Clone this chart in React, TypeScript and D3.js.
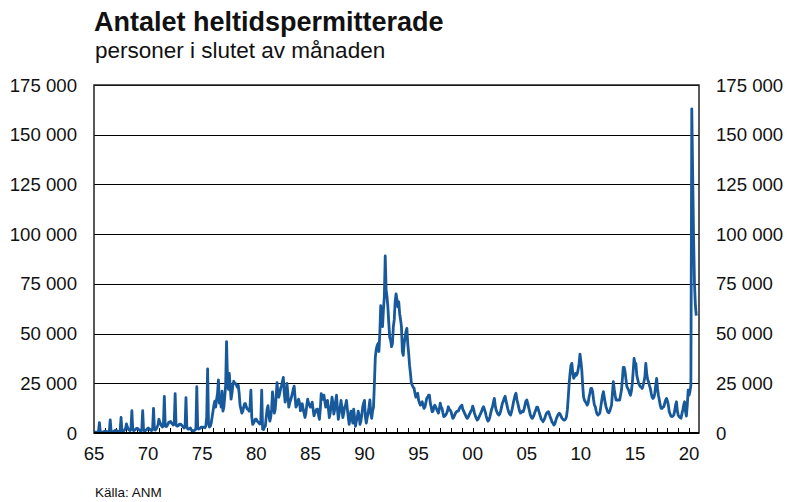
import { useEffect, useRef } from 'react';
import * as d3 from 'd3';

// monthly values, thousands of persons, jan..dec
const perm1965to1974 = [
  0.5, 0.4, 0.4, 0.4, 0.5, 0.8, 5.2, 0.6, 0.4, 0.4, 0.5, 0.7,
  0.9, 0.8, 0.7, 0.6, 0.5, 1.0, 6.6, 0.8, 0.6, 0.7, 0.9, 1.2,
  1.4, 1.2, 1.0, 0.8, 0.7, 1.2, 7.8, 1.0, 0.8, 1.1, 1.6, 2.3,
  4.6, 3.0, 2.0, 1.5, 1.2, 2.0, 11.2, 1.6, 1.2, 1.4, 1.8, 2.2,
  2.4, 2.0, 1.6, 1.2, 1.0, 1.8, 11.2, 1.3, 1.0, 1.2, 1.5, 2.0,
  2.5, 2.2, 1.8, 1.4, 1.2, 2.0, 12.4, 1.8, 1.5, 2.0, 3.0, 4.0,
  6.9, 5.5, 4.5, 3.5, 3.0, 4.0, 18.4, 3.5, 3.2, 3.5, 4.5, 5.5,
  5.5, 5.8, 5.0, 4.5, 4.0, 5.0, 19.8, 4.0, 3.5, 3.5, 4.0, 4.5,
  4.5, 4.0, 3.5, 3.0, 2.5, 3.0, 17.8, 3.0, 2.0, 2.0, 2.2, 2.5,
  1.5, 1.2, 1.0, 1.2, 1.5, 2.0, 23.3, 2.5, 2.0, 2.2, 2.5, 3.0,
];

const perm1975to1984 = [
  3.0, 3.0, 2.8, 2.6, 3.5, 8.0, 32.2, 5.0, 3.0, 3.5, 5.0, 8.0,
  11, 14, 16, 13, 17, 20, 26.7, 15, 18, 13, 21, 11,
  13, 18, 24, 46, 28.4, 22, 30, 24, 17, 20, 24, 26,
  25, 25, 24, 23, 24, 20, 14, 12, 10, 11, 13, 14.7,
  14.7, 13, 12, 12, 11, 13, 21.6, 8, 4.3, 5, 6, 7,
  7, 6, 5.5, 5, 4.5, 6, 21.6, 2, 1.7, 3, 3.4, 8,
  12, 13.8, 9, 6, 8, 12, 20.7, 15, 10, 12, 18, 25.3,
  20, 18, 20, 22.4, 24, 26, 28, 20, 15.5, 18, 25, 20,
  13, 15, 16.4, 18, 20, 22, 23.6, 18, 13, 14, 16, 17,
  15, 11.2, 12, 14.7, 12, 10, 7.8, 10, 14, 17, 15, 14,
];

const perm1985to1994 = [
  13, 14, 15.5, 12, 8.6, 10, 11, 12, 12, 9, 6.9, 12,
  19.8, 18, 17, 19, 16, 13, 15, 16.4, 12, 7.8, 10, 13.8,
  18, 15, 9.5, 12, 16, 19, 12, 6.9, 10, 13, 16.4, 12,
  7.8, 10, 13, 14, 16.4, 12, 8, 4.3, 8, 11, 8, 5,
  12, 8, 3.4, 6, 8, 11, 9, 4.3, 6, 9, 13, 15,
  16.4, 8, 5, 7.8, 10, 13, 16.6, 10, 7.4, 11, 13, 25,
  38, 42, 44, 45, 41, 50, 64, 55, 53.5, 62, 68.5, 89,
  72, 68.5, 63, 55, 48, 46.7, 43.4, 45, 53.5, 57, 66, 70,
  67, 63.5, 66, 60, 57, 53.5, 41, 39, 45, 48, 51, 52.6,
  45, 40, 34, 30, 25, 24, 23, 22.5, 20, 18, 19, 20,
];

const perm1995to2004 = [
  16.6, 15, 14, 15, 15.7, 14, 12.4, 13, 15, 17.4, 18, 19,
  19, 15, 13, 10.7, 11, 13, 14, 13, 12, 11, 10, 12,
  15, 13, 12.4, 10, 8.2, 8.5, 9, 9.9, 11, 13.2, 12, 11.5,
  10.7, 9, 7.4, 8, 9, 10, 10.7, 11, 11, 12, 13, 13.5,
  14, 12, 11, 10, 9, 8, 7.4, 8, 9, 10, 11, 11.6,
  13.5, 12, 10, 8.5, 7.5, 6.5, 7, 8, 9, 10, 11, 12.5,
  13.2, 12, 10.5, 8.5, 7, 6, 6.5, 8, 10, 12, 13.2, 15.5,
  17.4, 14, 11.6, 10.5, 9.5, 9, 9.5, 11, 13, 15, 16, 17.5,
  18.5, 16, 14, 12, 10.5, 9.5, 9, 10.5, 12.5, 15, 17, 19,
  20, 17, 15, 13, 11, 10, 10.5, 11, 10.7, 12, 14, 16,
];

const perm2005to2014 = [
  16.6, 15, 13, 11, 9, 8, 7.4, 8, 9, 10.5, 11.5, 13,
  13, 11.5, 10, 8.5, 7, 6.5, 5.7, 6.5, 7.5, 9, 10, 10.5,
  10.7, 9.5, 8, 7, 5.5, 5, 4, 4.5, 6, 7.5, 8.5, 9.5,
  10, 9.5, 8.5, 7.5, 7, 6.5, 6.5, 7, 8.2, 11.6, 18, 25,
  30, 34, 35, 30, 27.5, 28.5, 30, 29, 30, 32, 35, 39.7,
  36, 31.7, 24, 18, 16.5, 15.7, 15, 14, 15, 18, 20, 22.4,
  22.4, 20.8, 17, 14, 13.2, 11, 9.5, 9, 9.5, 10, 13, 16,
  19, 20.8, 18, 15, 13, 11.6, 10.5, 10.2, 11, 12.5, 14, 20,
  25.8, 22, 19, 16.6, 16.6, 16.6, 16.6, 16.6, 19, 21.6, 27, 33,
  33, 30.8, 27, 23.3, 22.5, 21.6, 20, 19, 21, 25, 31, 37.5,
];

const perm2015to2020 = [
  35, 35, 29, 27, 25, 24, 23.3, 23, 22.4, 24, 26, 28.3,
  35, 30, 27, 25.8, 24, 22.4, 20, 18, 17.4, 18, 20, 24,
  27.5, 22.4, 19, 16.6, 14, 12.4, 12.4, 13, 13.2, 15, 16.5, 17.4,
  16, 14, 10.7, 9.5, 8.5, 8.2, 8.5, 9, 11, 14, 15.7, 11,
  9, 8.2, 7.8, 7.4, 9.5, 11.6, 14, 15.7, 11, 8.5, 14, 21.6,
  19, 21, 24, 163, 130, 98, 75, 64, 59,
];

const startYear = 1965;
const yTicks = [0, 25000, 50000, 75000, 100000, 125000, 150000, 175000];
const xLabelYears = [1965, 1970, 1975, 1980, 1985, 1990, 1995, 2000, 2005, 2010, 2015, 2020];

const title = 'Antalet heltidspermitterade';
const subtitle = 'personer i slutet av månaden';
const source = 'Källa: ANM';

const FONT = '"Liberation Sans", Arial, sans-serif';
const LINE_COLOR = '#17599a';

const App = () => {
  const svgRef = useRef(null);

  useEffect(() => {
    const svg = d3.select(svgRef.current);
    svg.selectAll('*').remove();

    const W = 787;
    const H = 502;
    const MARGIN = { TOP: 85, RIGHT: 88, BOTTOM: 69, LEFT: 94 };
    const WIDTH = W - MARGIN.LEFT - MARGIN.RIGHT;
    const HEIGHT = H - MARGIN.TOP - MARGIN.BOTTOM;

    const values = [
      ...perm1965to1974,
      ...perm1975to1984,
      ...perm1985to1994,
      ...perm1995to2004,
      ...perm2005to2014,
      ...perm2015to2020,
    ];
    const data = values.map((v, i) => ({ t: startYear + i / 12, v: v * 1000 }));

    const xScale = d3.scaleLinear()
      .domain([startYear, 2020 + 11 / 12])
      .range([0, WIDTH]);

    const yScale = d3.scaleLinear()
      .domain([0, 175000])
      .range([HEIGHT, 0]);

    const fmt = d3.formatLocale({ decimal: ',', thousands: ' ', grouping: [3], currency: ['', ''] }).format(',');

    svg.append('text')
      .attr('x', 94)
      .attr('y', 31)
      .attr('font-family', FONT)
      .attr('font-weight', 'bold')
      .attr('font-size', '27px')
      .attr('fill', '#111')
      .text(title);

    svg.append('text')
      .attr('x', 95)
      .attr('y', 58)
      .attr('font-family', FONT)
      .attr('font-size', '22.5px')
      .attr('fill', '#111')
      .text(subtitle);

    const g = svg.append('g')
      .attr('transform', `translate(${MARGIN.LEFT}, ${MARGIN.TOP})`);

    // gridlines
    g.append('g')
      .selectAll('line')
      .data(yTicks)
      .join('line')
      .attr('x1', 0)
      .attr('x2', WIDTH)
      .attr('y1', d => Math.round(yScale(d)) + 0.5)
      .attr('y2', d => Math.round(yScale(d)) + 0.5)
      .attr('stroke', '#000')
      .attr('stroke-width', 1);

    // y labels left & right
    g.append('g')
      .selectAll('text')
      .data(yTicks)
      .join('text')
      .attr('x', -17)
      .attr('y', d => yScale(d))
      .attr('dy', '0.35em')
      .attr('text-anchor', 'end')
      .attr('font-family', FONT)
      .attr('font-size', '18.6px')
      .attr('fill', '#111')
      .text(d => fmt(d));

    g.append('g')
      .selectAll('text')
      .data(yTicks)
      .join('text')
      .attr('x', WIDTH + 17)
      .attr('y', d => yScale(d))
      .attr('dy', '0.35em')
      .attr('text-anchor', 'start')
      .attr('font-family', FONT)
      .attr('font-size', '18.6px')
      .attr('fill', '#111')
      .text(d => fmt(d));

    // yearly ticks, pointing up from the bottom axis
    g.append('g')
      .selectAll('line')
      .data(d3.range(1966, 2021))
      .join('line')
      .attr('x1', d => Math.round(xScale(d)) + 0.5)
      .attr('x2', d => Math.round(xScale(d)) + 0.5)
      .attr('y1', HEIGHT)
      .attr('y2', HEIGHT - 5)
      .attr('stroke', '#000')
      .attr('stroke-width', 1);

    g.append('g')
      .selectAll('text')
      .data(xLabelYears)
      .join('text')
      .attr('x', d => xScale(d))
      .attr('y', HEIGHT + 27)
      .attr('text-anchor', 'middle')
      .attr('font-family', FONT)
      .attr('font-size', '18.6px')
      .attr('fill', '#111')
      .text(d => String(d % 100).padStart(2, '0'));

    const line = d3.line()
      .x(d => xScale(d.t))
      .y(d => yScale(d.v));

    g.append('path')
      .datum(data)
      .attr('d', line)
      .attr('fill', 'none')
      .attr('stroke', LINE_COLOR)
      .attr('stroke-width', 2.8)
      .attr('stroke-linejoin', 'round');

    // frame
    g.append('rect')
      .attr('x', 0)
      .attr('y', 0)
      .attr('width', WIDTH)
      .attr('height', HEIGHT)
      .attr('fill', 'none')
      .attr('stroke', '#222')
      .attr('stroke-width', 1.5);

    g.append('line')
      .attr('x1', 0)
      .attr('x2', WIDTH)
      .attr('y1', HEIGHT)
      .attr('y2', HEIGHT)
      .attr('stroke', '#000')
      .attr('stroke-width', 2);

    svg.append('text')
      .attr('x', 95)
      .attr('y', 497)
      .attr('font-family', FONT)
      .attr('font-size', '13.5px')
      .attr('fill', '#111')
      .text(source);
  }, []);

  return (
    <svg
      ref={svgRef}
      width={787}
      height={502}
      style={{ position: 'absolute', left: 0, top: 0, background: '#fff' }}
    />
  );
};

export default App;
